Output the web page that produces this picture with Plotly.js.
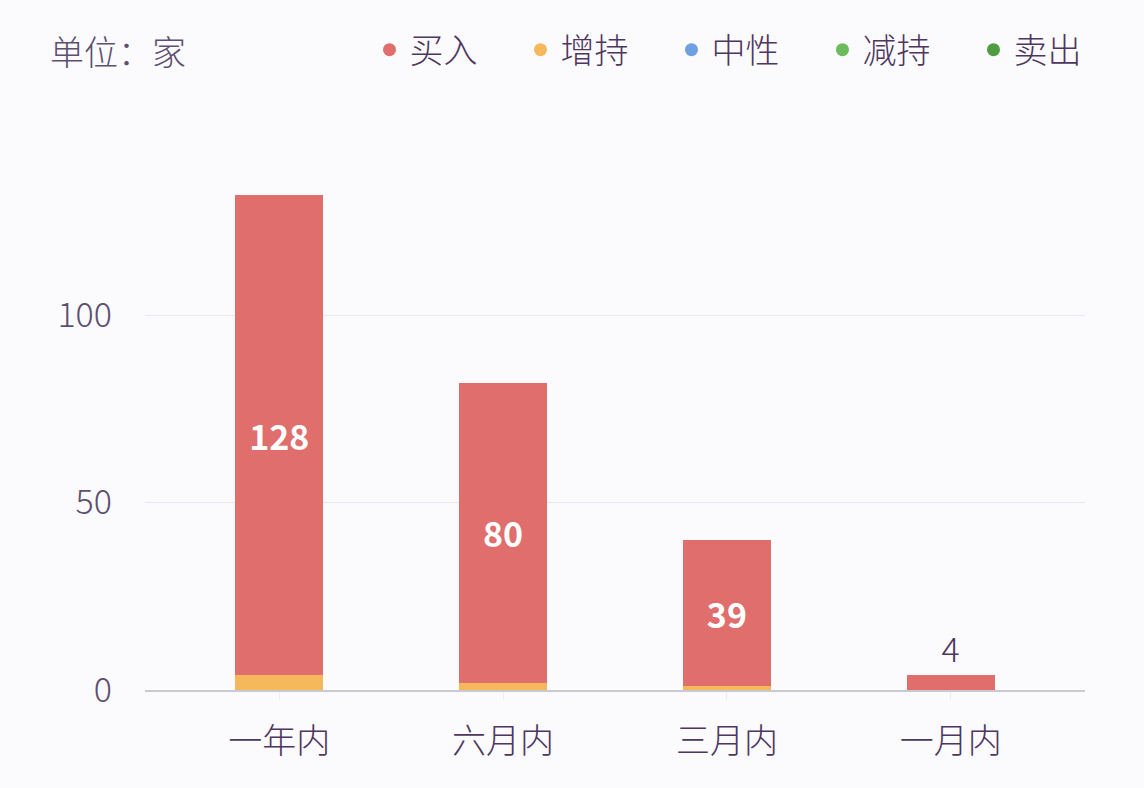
<!DOCTYPE html>
<html>
<head>
<meta charset="utf-8">
<script src="https://cdn.plot.ly/plotly-3.0.1.min.js"></script>
<style>
  html, body { margin: 0; padding: 0; background: #fbfbfe; }
  #myDiv { width: 1144px; height: 788px; }
</style>
</head>
<body>
<div id="myDiv"></div>
<script>
var categories = ['一年内', '六月内', '三月内', '一月内'];
var seriesNames = ['买入', '增持', '中性', '减持', '卖出'];
var buy = [128, 80, 39, 4];
var increase = [4, 2, 1, 0];
var neutral = [0, 0, 0, 0];
var reduce = [0, 0, 0, 0];
var sell = [0, 0, 0, 0];
var colors = ['#e06e6c', '#f5b95c', '#6fa0e2', '#6cbb5c', '#4f9d40'];

var textColor = '#4e3660';
var font = 'Noto Sans CJK SC, Noto Sans, sans-serif';

// zero series first so that 买入 sits on top of the stack
var bottomSeries = [
  {name: seriesNames[2], y: neutral, color: colors[2]},
  {name: seriesNames[3], y: reduce, color: colors[3]},
  {name: seriesNames[4], y: sell, color: colors[4]}
];

var data = [];
bottomSeries.forEach(function (s) {
  data.push({
    x: categories, y: s.y, type: 'bar', name: s.name,
    marker: {color: s.color, line: {width: 0}},
    showlegend: false, hoverinfo: 'skip'
  });
});

data.push({
  x: categories, y: increase, type: 'bar', name: seriesNames[1],
  marker: {color: colors[1], line: {width: 0}},
  showlegend: false
});

data.push({
  x: categories, y: buy, type: 'bar', name: seriesNames[0],
  marker: {color: colors[0], line: {width: 0}},
  text: buy.map(String),
  textposition: buy.map(function (v) { return v < 10 ? 'outside' : 'inside'; }),
  insidetextanchor: 'middle',
  textfont: {
    family: font,
    size: buy.map(function () { return 34; }),
    color: buy.map(function (v) { return v < 10 ? textColor : '#ffffff'; }),
    weight: buy.map(function (v) { return v < 10 ? 300 : 700; })
  },
  constraintext: 'none',
  cliponaxis: false,
  showlegend: false
});

// legend entries drawn as round dots
seriesNames.forEach(function (n, i) {
  data.push({
    x: [categories[0]], y: [null], type: 'scatter', mode: 'markers', name: n,
    marker: {color: colors[i], size: 13, symbol: 'circle'},
    hoverinfo: 'skip'
  });
});

var layout = {
  width: 1144,
  height: 788,
  paper_bgcolor: '#fbfbfe',
  plot_bgcolor: '#fbfbfe',
  font: {family: font, color: textColor, size: 34, weight: 300},
  margin: {l: 145, r: 59, t: 165, b: 98, autoexpand: false},
  barmode: 'stack',
  bargap: 0.607,
  showlegend: true,
  legend: {
    orientation: 'h',
    traceorder: 'normal',
    x: 1.042, xanchor: 'right',
    y: 1.219, yanchor: 'middle',
    font: {size: 34, color: textColor, weight: 300},
    itemwidth: 30,
    entrywidth: 106,
    bgcolor: 'rgba(0,0,0,0)'
  },
  xaxis: {
    type: 'category',
    range: [-0.6, 3.6],
    showgrid: false,
    showline: true,
    linecolor: '#c9c9d2',
    linewidth: 2,
    ticks: 'outside',
    ticklen: 8,
    tickcolor: '#ececf2',
    ticklabelstandoff: 12,
    tickfont: {size: 34, color: textColor, weight: 300},
    zeroline: false
  },
  yaxis: {
    range: [0, 140],
    tickvals: [0, 50, 100],
    showgrid: true,
    gridcolor: '#e6e9f1',
    gridwidth: 1,
    zeroline: false,
    showline: false,
    ticks: '',
    ticklabelstandoff: 32,
    tickfont: {size: 34, color: '#5d5070', weight: 300}
  },
  annotations: [{
    xref: 'paper', yref: 'paper',
    x: -0.103, xanchor: 'left',
    y: 1.219, yanchor: 'middle',
    text: '单位：家',
    showarrow: false,
    font: {size: 34, color: '#5d5070', weight: 300}
  }]
};

Plotly.newPlot('myDiv', data, layout, {displayModeBar: false});
</script>
</body>
</html>
